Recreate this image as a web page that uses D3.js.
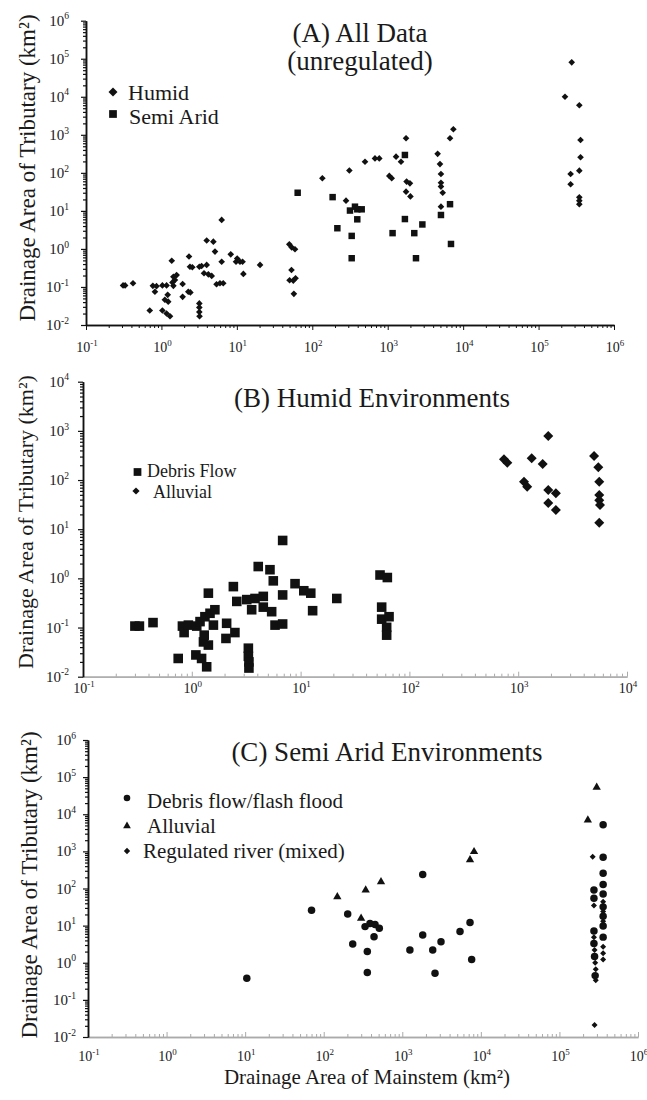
<!DOCTYPE html>
<html>
<head>
<meta charset="utf-8">
<script src="https://cdn.jsdelivr.net/npm/d3@7"></script>
<style>
  body { margin: 0; background: #fff; }
  text { font-family: "Liberation Serif", "Times New Roman", serif; fill: #1a1a1a; }
</style>
</head>
<body>
<svg id="chart"></svg>
<script>
// ---- data: [mainstem km2, tributary km2] ----

// (A) all data, unregulated
var aHumid = [
  [0.31,0.11],[0.33,0.11],[0.42,0.125],[0.70,0.024],[0.77,0.107],[0.82,0.075],[0.86,0.105],
  [1.03,0.11],[1.17,0.11],[1.03,0.024],[1.17,0.020],[1.30,0.017],[1.11,0.046],[1.21,0.062],
  [1.23,0.041],[1.37,0.49],[1.44,0.186],[1.51,0.152],[1.59,0.205],[1.44,0.107],[1.40,0.132],
  [1.91,0.12],[1.91,0.055],[2.32,0.63],[2.39,0.34],[2.57,0.33],[2.27,0.075],[2.42,0.072],
  [3.18,0.34],[3.18,0.037],[3.18,0.029],[3.18,0.022],[3.2,0.017],[3.41,0.355],[3.98,0.38],
  [3.67,0.23],[4.19,0.215],[4.64,0.195],[3.98,1.66],[4.88,1.55],[5.13,0.85],[6.29,5.8],
  [6.29,0.46],[5.38,0.118],[5.97,0.125],[6.6,0.125],[8.3,0.72],[9.75,0.46],[10.1,0.56],
  [11.0,0.46],[11.9,0.46],[12.2,0.22],[20.3,0.38],[49.6,1.32],[53.3,1.1],[59,0.98],
  [53,0.28],[50,0.15],[56,0.147],[60,0.17],[57,0.066],[136,72],
  [310,115],[280,18.6],[500,196],[678,240],[773,240],[1050,83],[1130,72],[1290,267],
  [1500,196],[1750,810],[1780,59],[1970,53],[1750,32],[2000,24],[4590,316],[4930,170],
  [5080,93],[5080,55],[5080,43.6],[5360,30],[5080,12.9],[6700,810],[7420,1400],
  [2.75e5,8.05e4],[2.24e5,1e4],[3.47e5,6000],[3.6e5,730],[3.6e5,257],[3.47e5,114],
  [2.66e5,93],[2.66e5,50],[3.47e5,22.7],[3.47e5,18.6],[3.47e5,15]
];
var aSemiArid = [
  [64,30],[186,23],[215,3.5],[316,10.2],[333,2.2],[333,0.57],[395,11],[452,11],[368,12.9],
  [395,6.0],[1160,2.6],[1690,295],[1690,6.1],[2250,2.6],[2370,0.57],[2880,4.4],[5080,7.8],
  [6700,15],[6900,1.35]
];

// (B) humid environments
var bDebris = [
  [0.30,0.107],[0.33,0.107],[0.44,0.126],[0.75,0.0235],[0.82,0.107],[0.85,0.079],[0.93,0.112],
  [1.11,0.107],[1.19,0.132],[1.09,0.0277],[1.23,0.0235],[1.37,0.0159],[1.42,0.50],[1.28,0.051],
  [1.42,0.044],[1.30,0.070],[1.32,0.166],[1.47,0.195],[1.63,0.23],[1.58,0.112],[2.09,0.122],
  [2.49,0.079],[2.06,0.060],[2.41,0.68],[2.59,0.34],[3.20,0.37],[3.81,0.39],[3.55,0.23],
  [3.31,0.038],[3.31,0.026],[3.35,0.020],[3.35,0.015],[4.08,1.74],[4.54,0.43],[4.54,0.26],
  [5.23,1.5],[5.61,0.89],[5.42,0.21],[5.82,0.112],[6.84,0.118],[6.84,0.46],[6.84,5.9],
  [8.89,0.78],[10.7,0.56],[12.4,0.50],[12.9,0.22],[21.5,0.39],[53.7,1.17],[62.7,1.04],
  [55.6,0.26],[55.6,0.148],[65,0.166],[61.8,0.101],[61.8,0.070]
];
var bAlluvial = [
  [740,264],[794,225],[1330,277],[1680,212],[1890,787],[1130,92],[1210,73],[1890,63],
  [2220,54],[1890,34],[2220,24.6],[4980,308],[5450,181],[5560,92],[5560,49.7],[5560,39],
  [5650,31],[5560,13.6]
];

// (C) semi arid environments
var cDebris = [
  [10.5,0.38],[70,26],[202,20.6],[234,3.2],[336,9.4],[388,11.4],[450,10.8],[510,8.5],
  [437,5.0],[359,2.0],[359,0.55],[1250,2.2],[1820,240],[1820,5.6],[2440,2.2],[2610,0.52],
  [3110,3.7],[5430,6.9],[7280,12.2],[7640,1.23],
  [3.6e5,5200],[3.6e5,690],[3.6e5,257],[3.6e5,129],[3.6e5,71],[2.75e5,91],[2.75e5,55],
  [3.6e5,32],[3.6e5,17.8],[3.6e5,9.8],[2.75e5,7.2],[3.6e5,4.9],[2.75e5,3.3],[2.8e5,1.48],
  [2.85e5,0.45]
];
var cAlluvial = [
  [149,60],[299,15.8],[342,91],[536,152],[7280,590],[8190,980],[2.98e5,5.3e4],[2.3e5,7000]
];
var cRegulated = [
  [2.65e5,720],[2.75e5,35],[3.6e5,44],[3.6e5,24],[3.6e5,13.2],[2.75e5,4.9],[2.8e5,2.2],
  [2.85e5,1.0],[2.9e5,0.67],[2.9e5,0.34],[3.6e5,2.7],[3.6e5,1.8],[3.6e5,1.23],[2.8e5,0.021]
];

var yTitle = "Drainage Area of Tributary (km\u00b2)";
var xTitle = "Drainage Area of Mainstem (km\u00b2)";

var svg = d3.select("#chart").attr("width", 647).attr("height", 1100);

function decades(dom) {
  var out = [];
  for (var e = Math.round(Math.log10(dom[0])); e <= Math.round(Math.log10(dom[1])); e++) out.push(Math.pow(10, e));
  return out;
}
function minors(dom) {
  var out = [];
  decades(dom).slice(0, -1).forEach(function(d) {
    for (var k = 2; k <= 9; k++) out.push(d * k);
  });
  return out;
}
// "10" with a raised exponent
function powLabel(sel, fs) {
  sel.each(function(d) {
    var t = d3.select(this), e = Math.round(Math.log10(d));
    t.append("tspan").text("10");
    t.append("tspan").attr("dy", -fs * 0.42).attr("font-size", fs * 0.64).text(e);
  });
}

function symbolPath(type, size) {
  var s = {diamond: d3.symbolSquare, square: d3.symbolSquare, circle: d3.symbolCircle, triangle: d3.symbolTriangle}[type];
  return d3.symbol(s, size)();
}
function markers(g, data, x, y, type, size) {
  g.append("g").selectAll("path")
    .data(data)
    .enter().append("path")
      .attr("d", symbolPath(type, size))
      .attr("fill", "#111")
      .attr("transform", function(d) {
        return "translate(" + x(d[0]) + "," + y(d[1]) + ")" + (type == "diamond" ? " rotate(45)" : "");
      });
}
function legendMark(g, type, size, cx, cy) {
  g.append("path").attr("d", symbolPath(type, size)).attr("fill", "#111")
    .attr("transform", "translate(" + cx + "," + cy + ")" + (type == "diamond" ? " rotate(45)" : ""));
}

function drawPanel(p) {
  var g = svg.append("g");
  var x = d3.scaleLog().domain(p.xDom).range(p.xRange);
  var y = d3.scaleLog().domain(p.yDom).range(p.yRange);
  var yb = p.yRange[0], xl = p.xRange[0];
  var xAxisFn = p.ticksUp ? d3.axisTop : d3.axisBottom;

  // x axis: minor then major ticks
  [[minors(p.xDom), 3], [decades(p.xDom), 5]].forEach(function(t) {
    var ax = g.append("g").attr("transform", "translate(0," + yb + ")")
      .call(xAxisFn(x).tickValues(t[0]).tickSize(t[1]).tickSizeOuter(0).tickFormat(""));
    ax.select(".domain").attr("stroke", p.xColor).attr("stroke-width", 1.3);
    ax.selectAll(".tick line").attr("stroke", p.xColor);
  });
  // y axis
  [[minors(p.yDom), 3], [decades(p.yDom), 5]].forEach(function(t) {
    var ax = g.append("g").attr("transform", "translate(" + xl + ",0)")
      .call(d3.axisLeft(y).tickValues(t[0]).tickSize(t[1]).tickSizeOuter(0).tickFormat(""));
    ax.select(".domain").attr("stroke", "#111").attr("stroke-width", 1.5);
    ax.selectAll(".tick line").attr("stroke", "#111").attr("stroke-width", 1.2);
  });

  g.append("g").selectAll("text")
    .data(decades(p.xDom))
    .enter().append("text")
      .attr("x", function(d) { return x(d) + 1; })
      .attr("y", p.xLabY)
      .attr("text-anchor", "middle")
      .attr("font-size", 14)
      .call(powLabel, 14);

  g.append("g").selectAll("text")
    .data(decades(p.yDom))
    .enter().append("text")
      .attr("x", xl - p.yLabGap)
      .attr("y", function(d) { return y(d) + 5; })
      .attr("text-anchor", "end")
      .attr("font-size", 15)
      .call(powLabel, 15);

  // axis title
  g.append("text")
    .attr("transform", "translate(" + p.yTitleX + "," + p.yTitleY + ") rotate(-90)")
    .attr("text-anchor", "middle")
    .attr("font-size", p.yTitleSize)
    .text(yTitle);

  // panel heading
  p.title.forEach(function(line, i) {
    g.append("text").attr("x", p.titleX).attr("y", p.titleY + i * 28)
      .attr("text-anchor", "middle").attr("font-size", 27).text(line);
  });

  p.series.forEach(function(s) {
    markers(g, s.data, x, y, s.type, s.size);
    legendMark(g, s.type, s.legSize, s.legX, s.legY);
    g.append("text").attr("x", s.textX).attr("y", s.legY + s.textDy)
      .attr("font-size", p.legFont).text(s.name);
  });
  return g;
}

drawPanel({
  xDom: [0.1, 1e6], yDom: [0.01, 1e6],
  xRange: [86, 614], yRange: [325, 20.7],
  ticksUp: false, xColor: "#111", xLabY: 352, yLabGap: 17,
  yTitleX: 35, yTitleY: 168, yTitleSize: 23,
  title: ["(A) All Data", "(unregulated)"], titleX: 360, titleY: 42,
  legFont: 22,
  series: [
    {name: "Humid", data: aHumid, type: "diamond", size: 22, legSize: 40, legX: 113, legY: 92, textX: 128, textDy: 8},
    {name: "Semi Arid", data: aSemiArid, type: "square", size: 42, legSize: 60, legX: 113, legY: 114, textX: 129, textDy: 10}
  ]
});

drawPanel({
  xDom: [0.1, 1e4], yDom: [0.01, 1e4],
  xRange: [83, 627], yRange: [676.7, 381.7],
  ticksUp: true, xColor: "#aaa", xLabY: 693, yLabGap: 14,
  yTitleX: 33, yTitleY: 522, yTitleSize: 22,
  title: ["(B) Humid Environments"], titleX: 372, titleY: 407,
  legFont: 18,
  series: [
    {name: "Debris Flow", data: bDebris, type: "square", size: 92, legSize: 60, legX: 137.5, legY: 472, textX: 147, textDy: 5},
    {name: "Alluvial", data: bAlluvial, type: "diamond", size: 50, legSize: 26, legX: 136, legY: 491, textX: 153, textDy: 7}
  ]
});

var pc = drawPanel({
  xDom: [0.1, 1e6], yDom: [0.01, 1e6],
  xRange: [88, 638], yRange: [1037, 740],
  ticksUp: true, xColor: "#aaa", xLabY: 1061, yLabGap: 12,
  yTitleX: 37, yTitleY: 885, yTitleSize: 23,
  title: ["(C) Semi Arid Environments"], titleX: 387, titleY: 761,
  legFont: 21,
  series: [
    {name: "Debris flow/flash flood", data: cDebris, type: "circle", size: 44, legSize: 34, legX: 127, legY: 798, textX: 147, textDy: 10},
    {name: "Alluvial", data: cAlluvial, type: "triangle", size: 30, legSize: 26, legX: 127, legY: 826, textX: 147, textDy: 7},
    {name: "Regulated river (mixed)", data: cRegulated, type: "diamond", size: 18, legSize: 20, legX: 127, legY: 851, textX: 143, textDy: 7}
  ]
});

pc.append("text").attr("x", 367).attr("y", 1084).attr("text-anchor", "middle")
  .attr("font-size", 21).text(xTitle);
</script>
</body>
</html>
